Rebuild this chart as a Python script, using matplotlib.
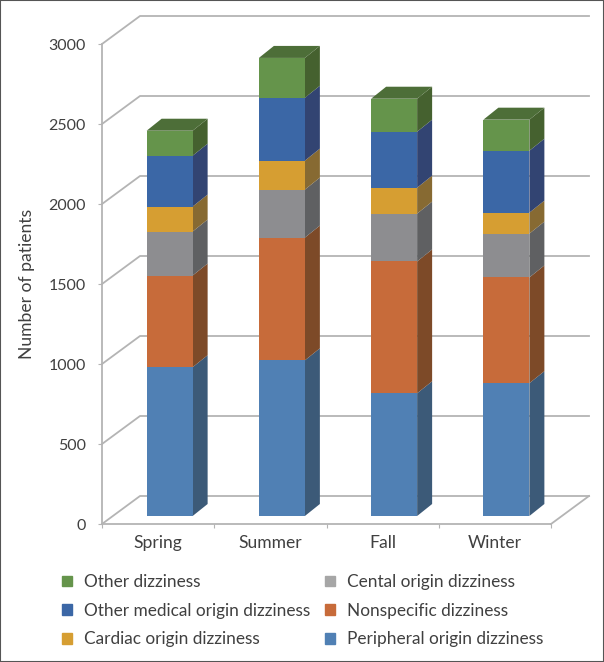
import matplotlib
matplotlib.use("Agg")
import matplotlib.pyplot as plt
from matplotlib.patches import Patch, Rectangle

seasons = ["Spring", "Summer", "Fall", "Winter"]
peripheral = [930, 973, 767, 830]
nonspecific = [573, 767, 824, 661]
central = [275, 300, 299, 274]
cardiac = [156, 181, 162, 131]
other_medical = [318, 393, 350, 387]
other = [156, 249, 206, 194]

# bottom to top
series = [peripheral, nonspecific, central, cardiac, other_medical, other]
front_colors = ["#5080b4", "#c76b3a", "#8d8d90", "#d69e32", "#3b67a6", "#65944b"]
side_colors = ["#3c5a78", "#7d4a28", "#5f6062", "#876a32", "#324472", "#45612f"]
top_color = "#4d6e38"
text_color = "#404040"
grid_color = "#b4b4b4"
yticks = [0, 500, 1000, 1500, 2000, 2500, 3000]

W, H = 604, 662
plt.rcParams["font.family"] = ["Lato", "DejaVu Sans"]
fig = plt.figure(figsize=(W / 100, H / 100), dpi=100)

# plot area in pixels, front plane of the 3D box
left, right, top, bottom = 102, 551, 44, 524
ax = fig.add_axes([left / W, 1 - bottom / H, (right - left) / W, (bottom - top) / H])
ax.set_xlim(-0.5, 3.5)
ax.set_ylim(0, 3000)
ax.patch.set_alpha(0)

px_x = 4 / (right - left)      # category units per pixel
px_y = 3000 / (bottom - top)   # value units per pixel

# box walls
wall_dx, wall_dy = 38 * px_x, 28 * px_y
for v in yticks:
    ax.plot([-0.5, -0.5 + wall_dx, 3.5 + wall_dx], [v, v + wall_dy, v + wall_dy],
            color=grid_color, lw=1.3, clip_on=False, zorder=1)
ax.plot([3.5, 3.5 + wall_dx], [0, wall_dy], color=grid_color, lw=1.3, clip_on=False, zorder=1)

# stacked 3D bars
bar_w = 46 * px_x
shift_x = 11.5 * px_x
gap = 8 * px_y
dx, dy = 15 * px_x, 12 * px_y
for i in range(len(seasons)):
    x0 = i + shift_x - bar_w / 2
    x1 = x0 + bar_w
    base = gap
    for s, vals in enumerate(series):
        hi = base + vals[i]
        ax.bar(x0, vals[i], width=bar_w, bottom=base, align="edge",
               color=front_colors[s], clip_on=False, zorder=3)
        ax.fill([x1, x1 + dx, x1 + dx, x1], [base, base + dy, hi + dy, hi],
                color=side_colors[s], lw=0, clip_on=False, zorder=2)
        base = hi
    ax.fill([x0, x1, x1 + dx, x0 + dx], [base, base, base + dy, base + dy],
            color=top_color, lw=0, clip_on=False, zorder=2)

for name in ["top", "right"]:
    ax.spines[name].set_visible(False)
for name in ["left", "bottom"]:
    ax.spines[name].set_color(grid_color)
    ax.spines[name].set_linewidth(1.3)

ax.set_yticks(yticks)
ax.tick_params(axis="y", length=3, color=grid_color, labelsize=11.5, labelcolor=text_color, pad=8.5)
ax.set_xticks([-0.5, 0.5, 1.5, 2.5, 3.5])
ax.set_xticklabels([])
ax.set_xticks(range(len(seasons)), seasons, minor=True)
ax.tick_params(axis="x", which="major", length=3, color=grid_color)
ax.tick_params(axis="x", which="minor", length=0, labelsize=12.6, labelcolor=text_color, pad=8)
ax.set_ylabel("Number of patients", fontsize=12.6, color=text_color, labelpad=10)

# legend, filled by column
labels = ["Other dizziness", "Other medical origin dizziness", "Cardiac origin dizziness",
          "Cental origin dizziness", "Nonspecific dizziness", "Peripheral origin dizziness"]
legend_colors = ["#65944b", "#3b67a6", "#d69e32", "#a6a6a6", "#c76b3a", "#5080b4"]
handles = [Patch(color=c) for c in legend_colors]
fig.legend(handles, labels, ncols=2, frameon=False, loc="upper left",
           bbox_to_anchor=(62 / W, 1 - 574 / H), fontsize=12.4, labelcolor=text_color,
           handlelength=0.58, handleheight=0.58, handletextpad=0.7,
           labelspacing=0.74, columnspacing=0.87, borderpad=0, borderaxespad=0)

fig.add_artist(Rectangle((0, 0), 1, 1, transform=fig.transFigure, fill=False,
                         edgecolor="#555555", lw=1.5))

fig.savefig("out.png", dpi=100)
